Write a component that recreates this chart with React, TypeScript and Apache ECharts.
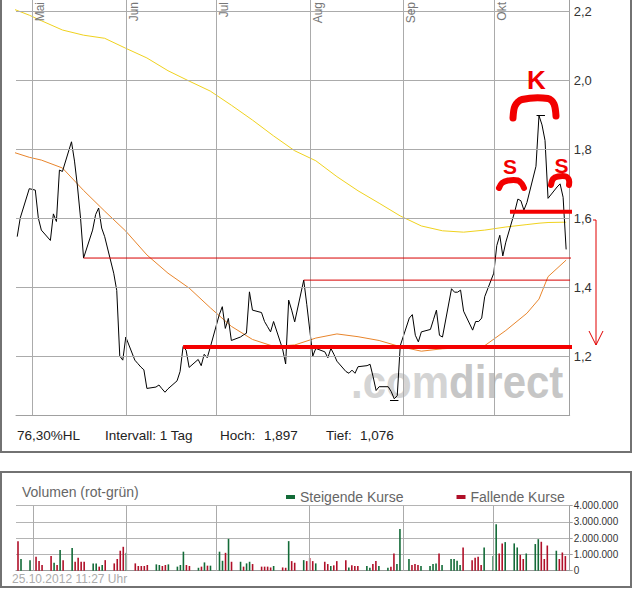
import React, { useEffect, useRef } from "react";
import * as echarts from "echarts";

// ---------- DATA (2012, Xetra trading days) ----------
const aprDays = [26, 27, 30];
const aprClose = [1.546, 1.6, 1.685];
const aprVolume = [1.82, 0.72, 0.65]; // millions
const aprTrend = "rgg";

const mayDays = [2, 3, 4, 7, 8, 9, 10, 11, 14, 15, 16, 17, 18, 21, 22, 23, 24, 25, 28, 29, 30, 31];
const mayClose = [1.681, 1.6, 1.565, 1.535, 1.612, 1.59, 1.739, 1.735, 1.821, 1.765, 1.69, 1.6, 1.484, 1.565, 1.61, 1.629, 1.571, 1.546, 1.44, 1.39, 1.2, 1.188];
const mayVolume = [0.86, 0.59, 0.35, 0.9, 0.49, 0.35, 1.27, 0.65, 1.39, 0.55, 0.8, 0.55, 0.55, 0.45, 0.45, 0.25, 0.35, 0.65, 0.45, 0.72, 1.23, 1.47];
const mayTrend = "rrrrgrgrgrrrrggrgrrrrr";

const junDays = [1, 4, 5, 6, 7, 8, 11, 12, 13, 14, 15, 18, 19, 20, 21, 22, 25, 26, 27, 28, 29];
const junClose = [1.255, 1.188, 1.178, 1.168, 1.16, 1.106, 1.11, 1.116, 1.105, 1.095, 1.105, 1.128, 1.155, 1.227, 1.217, 1.167, 1.19, 1.172, 1.205, 1.195, 1.225];
const junVolume = [1.1, 0.45, 0.29, 0.29, 0.29, 0.35, 0.39, 0.35, 0.29, 0.35, 0.39, 0.25, 0.35, 1.17, 0.35, 0.29, 0.18, 0.25, 0.51, 0.31, 0.31];
const junTrend = "grrrrrggrrggggrrgrgrg";

const julDays = [2, 3, 4, 5, 6, 9, 10, 11, 12, 13, 16, 17, 18, 19, 20, 23, 24, 25, 26, 27, 30, 31];
const julClose = [1.32, 1.343, 1.28, 1.309, 1.245, 1.255, 1.261, 1.266, 1.386, 1.333, 1.326, 1.3, 1.285, 1.27, 1.3, 1.22, 1.177, 1.362, 1.333, 1.299, 1.42, 1.35];
const julVolume = [1.17, 0.61, 1.1, 1.96, 0.55, 0.55, 0.25, 0.45, 0.55, 0.41, 0.25, 0.25, 0.25, 0.2, 0.29, 0.2, 0.18, 1.82, 0.59, 0.49, 0.65, 0.59];
const julTrend = "ggrgrgrggrrrrrgrrgrrgr";

const augDays = [1, 2, 3, 6, 7, 8, 9, 10, 13, 14, 15, 16, 17, 20, 21, 22, 23, 24, 27, 28, 29, 30, 31];
const augClose = [1.275, 1.2, 1.222, 1.212, 1.195, 1.222, 1.205, 1.185, 1.155, 1.15, 1.159, 1.15, 1.169, 1.172, 1.176, 1.14, 1.1, 1.111, 1.111, 1.097, 1.076, 1.085, 1.23];
const augVolume = [0.78, 0.59, 0.45, 0.55, 0.41, 0.29, 0.33, 0.59, 0.65, 0.2, 0.33, 0.29, 0.29, 0.29, 0.18, 0.41, 0.59, 0.29, 0.18, 0.25, 1.06, 0.41, 2.56];
const augTrend = "rrgrrgrrrgrrrggrrggrrgg";

const sepDays = [3, 4, 5, 6, 7, 10, 11, 12, 13, 14, 17, 18, 19, 20, 21, 24, 25, 26, 27, 28];
const sepClose = [1.31, 1.32, 1.26, 1.241, 1.27, 1.277, 1.305, 1.333, 1.26, 1.255, 1.395, 1.385, 1.385, 1.391, 1.33, 1.275, 1.3, 1.3, 1.31, 1.372];
const sepVolume = [0.72, 0.35, 0.41, 0.35, 0.29, 0.29, 0.41, 0.45, 1.06, 0.35, 0.72, 0.72, 0.61, 0.35, 1.43, 0.65, 0.8, 0.86, 0.35, 1.43];
const sepTrend = "grrrggggrgggggrrrrrg";

const octDays = [1, 2, 3, 4, 5, 8, 9, 10, 11, 12, 15, 16, 17, 18, 19, 22, 23, 24, 25];
const octClose = [1.44, 1.52, 1.55, 1.49, 1.53, 1.62, 1.655, 1.65, 1.623, 1.645, 1.75, 1.897, 1.87, 1.825, 1.657, 1.69, 1.699, 1.66, 1.509];
const octVolume = [0.9, 2.86, 1.06, 1.68, 1.76, 1.68, 1.43, 0.98, 0.72, 1.06, 1.64, 1.94, 1.78, 0.72, 1.55, 1.23, 0.72, 1.12, 0.9];
const octTrend = "ggrrgggrrgggrrrgrrr";

// moving averages (weekly samples)
const maDates = ["2012-04-25", "2012-04-30", "2012-05-04", "2012-05-11", "2012-05-18", "2012-05-25", "2012-06-01", "2012-06-08", "2012-06-15", "2012-06-22", "2012-06-29", "2012-07-06", "2012-07-13", "2012-07-20", "2012-07-27", "2012-08-03", "2012-08-10", "2012-08-17", "2012-08-24", "2012-08-31", "2012-09-07", "2012-09-14", "2012-09-21", "2012-09-28", "2012-10-05", "2012-10-12", "2012-10-16", "2012-10-19", "2012-10-25"];
const maLong = [2.205, 2.188, 2.172, 2.145, 2.13, 2.121, 2.092, 2.064, 2.027, 1.997, 1.968, 1.927, 1.884, 1.838, 1.795, 1.766, 1.72, 1.679, 1.643, 1.606, 1.577, 1.563, 1.559, 1.565, 1.574, 1.581, 1.585, 1.587, 1.588];
const maShort = [1.79, 1.776, 1.768, 1.745, 1.68, 1.62, 1.562, 1.493, 1.44, 1.397, 1.34, 1.286, 1.248, 1.228, 1.232, 1.252, 1.264, 1.256, 1.245, 1.227, 1.214, 1.221, 1.224, 1.23, 1.274, 1.324, 1.365, 1.43, 1.478];

// axis ticks / labels
const priceTicks = [1.2, 1.4, 1.6, 1.8, 2.0, 2.2];
const priceTickLabels = ["1,2", "1,4", "1,6", "1,8", "2,0", "2,2"];
const monthStarts = ["2012-05-01", "2012-06-01", "2012-07-01", "2012-08-01", "2012-09-01", "2012-10-01"];
const monthLabels = ["Mai", "Jun", "Jul", "Aug", "Sep", "Okt"];

// hand-drawn support / resistance lines
const resFrom = ["2012-05-18", "2012-07-30", "2012-06-20", "2012-10-06 09:00"];
const resTo = ["2012-10-26 20:00", "2012-10-26 07:00", "2012-10-27 22:00", "2012-10-29 07:00"];
const resValue = [1.484, 1.42, 1.226, 1.618];
const resBold = [false, false, true, true];

const highDate = "2012-10-16 14:00";
const highValue = 1.899;
const lowDate = "2012-08-29";
const lowValue = 1.072;

// ---------- helpers ----------
const parse = (s: string) => {
  const [d, tm] = s.split(" ");
  const [y, m, dd] = d.split("-").map(Number);
  const [h, mi] = tm ? tm.split(":").map(Number) : [0, 0];
  return new Date(y, m - 1, dd, h, mi).getTime();
};
const DAY = 86400000;
const FONT = "'Liberation Sans', Arial, Helvetica, sans-serif";

const months = [
  { m: 4, days: aprDays, close: aprClose, vol: aprVolume, trend: aprTrend },
  { m: 5, days: mayDays, close: mayClose, vol: mayVolume, trend: mayTrend },
  { m: 6, days: junDays, close: junClose, vol: junVolume, trend: junTrend },
  { m: 7, days: julDays, close: julClose, vol: julVolume, trend: julTrend },
  { m: 8, days: augDays, close: augClose, vol: augVolume, trend: augTrend },
  { m: 9, days: sepDays, close: sepClose, vol: sepVolume, trend: sepTrend },
  { m: 10, days: octDays, close: octClose, vol: octVolume, trend: octTrend },
];

export default function App() {
  const ref = useRef<HTMLDivElement>(null);

  useEffect(() => {
    if (!ref.current) return;
    const chart = echarts.init(ref.current, null, { renderer: "svg" });

    const price: [number, number][] = [];
    const upVol: [number, number][] = [];
    const downVol: [number, number][] = [];
    months.forEach((mo) =>
      mo.days.forEach((d, i) => {
        const t = new Date(2012, mo.m - 1, d).getTime();
        price.push([t, mo.close[i]]);
        (mo.trend[i] === "g" ? upVol : downVol).push([t, mo.vol[i] * 1e6]);
      })
    );
    const maLongData = maDates.map((d, i) => [parse(d), maLong[i]]);
    const maShortData = maDates.map((d, i) => [parse(d), maShort[i]]);

    const xMin = parse("2012-04-25 14:24");
    const xMax = parse("2012-10-26 04:20");

    const gridLines: any[] = [
      ...priceTicks.map((v, i) => ({
        yAxis: v,
        label: { show: true, position: "end", formatter: priceTickLabels[i], color: "#333", fontSize: 13, distance: 4 },
      })),
      ...monthStarts.map((s, i) => ({
        xAxis: parse(s),
        name: monthLabels[i],
        label: { show: true, position: "insideEndBottom", formatter: monthLabels[i], color: "#777", fontSize: 12, distance: 2 },
      })),
    ];

    const hl = (date: string, v: number) => [
      { coord: [parse(date) - 1.4 * DAY, v], lineStyle: { color: "#000", width: 1, type: "solid" } },
      { coord: [parse(date) + 1.4 * DAY, v] },
    ];

    const resSeries = resFrom.map((f, i) => ({
      type: "line",
      name: "res" + i,
      xAxisIndex: 0,
      yAxisIndex: 0,
      data: [[parse(f), resValue[i]], [parse(resTo[i]), resValue[i]]],
      showSymbol: false,
      symbol: "none",
      clip: false,
      silent: true,
      z: resBold[i] ? 6 : 5,
      lineStyle: { color: resBold[i] ? "#f40000" : "#d80000", width: resBold[i] ? 4 : 1, cap: "butt" },
    }));

    const fmtVol = (v: number) => (v === 0 ? "0" : String(v).replace(/\B(?=(\d{3})+(?!\d))/g, "."));

    const red = "#f20000";
    const capStyle = { stroke: red, lineWidth: 6, fill: "none", lineCap: "round", lineJoin: "round" };
    const infoStyle = { fill: "#222", fontSize: 13.5, fontFamily: FONT, verticalAlign: "middle" };

    chart.setOption({
      animation: false,
      textStyle: { fontFamily: FONT },
      grid: [
        { left: 16, right: 67.3, top: 0, height: 415 },
        { left: 16, right: 67.3, top: 505.7, height: 65 },
      ],
      xAxis: [
        {
          type: "time", gridIndex: 0, min: xMin, max: xMax,
          axisLine: { show: true, lineStyle: { color: "#a0a0a0", width: 1 } },
          axisTick: { show: false }, axisLabel: { show: false }, splitLine: { show: false },
        },
        {
          type: "time", gridIndex: 1, min: xMin, max: xMax,
          axisLine: { show: true, lineStyle: { color: "#999", width: 1 } },
          axisTick: { show: false }, axisLabel: { show: false }, splitLine: { show: false },
        },
      ],
      yAxis: [
        {
          type: "value", gridIndex: 0, position: "right", min: 1.029, max: 2.232,
          axisLine: { show: true, lineStyle: { color: "#a0a0a0", width: 1 } },
          axisTick: { show: false }, axisLabel: { show: false }, splitLine: { show: false },
        },
        {
          type: "value", gridIndex: 1, position: "right", min: 0, max: 4000000, interval: 1000000,
          axisLine: { show: true, lineStyle: { color: "#a0a0a0", width: 1 } },
          axisTick: { show: true, length: 3, lineStyle: { color: "#a0a0a0" } },
          axisLabel: { show: true, fontSize: 10, color: "#333", margin: 4, formatter: fmtVol },
          splitLine: { show: true, lineStyle: { color: "#b4b4b4", width: 1 } },
        },
      ],
      legend: {
        data: ["Steigende Kurse", "Fallende Kurse"],
        left: 281, top: 485, icon: "rect", itemWidth: 9, itemHeight: 4, itemGap: 53,
        selectedMode: false,
        textStyle: { color: "#666", fontSize: 14, fontFamily: FONT },
      },
      series: [
        {
          type: "line", name: "GD200", xAxisIndex: 0, yAxisIndex: 0, data: maLongData,
          showSymbol: false, symbol: "none", smooth: false,
          lineStyle: { color: "#f0d21e", width: 1 }, z: 2, silent: true,
          markLine: {
            silent: true, symbol: ["none", "none"], animation: false,
            lineStyle: { color: "#ababab", width: 1, type: "solid" },
            data: gridLines,
          },
        },
        {
          type: "line", name: "GD38", xAxisIndex: 0, yAxisIndex: 0, data: maShortData,
          showSymbol: false, symbol: "none",
          lineStyle: { color: "#e8852c", width: 1 }, z: 2, silent: true,
        },
        {
          type: "line", name: "Kurs", xAxisIndex: 0, yAxisIndex: 0, data: price,
          showSymbol: false, symbol: "none",
          lineStyle: { color: "#000", width: 1 }, z: 3, silent: true,
          markLine: {
            silent: true, symbol: ["none", "none"], animation: false,
            label: { show: false },
            data: [hl(highDate, highValue), hl(lowDate, lowValue)],
          },
        },
        ...resSeries,
        {
          type: "bar", name: "Steigende Kurse", xAxisIndex: 1, yAxisIndex: 1, data: upVol,
          barWidth: 1.6, itemStyle: { color: "#136b38" }, silent: true,
          markLine: {
            silent: true, symbol: ["none", "none"], animation: false, label: { show: false },
            lineStyle: { color: "#ababab", width: 1, type: "solid" },
            data: monthStarts.map((s) => ({ xAxis: parse(s) })),
          },
        },
        {
          type: "bar", name: "Fallende Kurse", xAxisIndex: 1, yAxisIndex: 1, data: downVol,
          barWidth: 1.6, barGap: "-100%", itemStyle: { color: "#b01029" }, silent: true,
        },
      ],
      graphic: [
        { type: "rect", silent: true, z: 0, shape: { x: 1, y: -2, width: 630, height: 454 }, style: { fill: "none", stroke: "#727272", lineWidth: 2 } },
        { type: "rect", silent: true, z: 0, shape: { x: 1, y: 472, width: 630, height: 115 }, style: { fill: "none", stroke: "#727272", lineWidth: 2 } },
        {
          type: "text", silent: true, z: 0, x: 351, y: 382, scaleY: 1.12,
          style: {
            text: "{a|.com}{b|direct}", font: `bold 42px ${FONT}`, verticalAlign: "middle",
            rich: {
              a: { fill: "#d4d4d4", fontSize: 42, fontWeight: "bold", fontFamily: FONT },
              b: { fill: "#c6c6c6", fontSize: 42, fontWeight: "bold", fontFamily: FONT },
            },
          },
        },
        { type: "text", silent: true, x: 17, y: 435, style: { ...infoStyle, text: "76,30%HL" } },
        { type: "text", silent: true, x: 105, y: 435, style: { ...infoStyle, text: "Intervall: 1 Tag" } },
        { type: "text", silent: true, x: 220, y: 435, style: { ...infoStyle, text: "Hoch:" } },
        { type: "text", silent: true, x: 264, y: 435, style: { ...infoStyle, text: "1,897" } },
        { type: "text", silent: true, x: 326, y: 435, style: { ...infoStyle, text: "Tief:" } },
        { type: "text", silent: true, x: 360, y: 435, style: { ...infoStyle, text: "1,076" } },
        { type: "text", silent: true, x: 22, y: 492, style: { text: "Volumen (rot-grün)", fill: "#666", fontSize: 14, fontFamily: FONT, verticalAlign: "middle" } },
        { type: "text", silent: true, x: 12, y: 579, style: { text: "25.10.2012 11:27 Uhr", fill: "#ababab", fontSize: 12, fontFamily: FONT, verticalAlign: "middle" } },
        // hand-drawn annotations
        { type: "text", silent: true, z: 100, x: 536.5, y: 80, style: { text: "K", fill: red, fontSize: 26, fontWeight: "bold", fontFamily: FONT, align: "center", verticalAlign: "middle" } },
        { type: "text", silent: true, z: 100, x: 510, y: 166, style: { text: "S", fill: red, fontSize: 21, fontWeight: "bold", fontFamily: FONT, align: "center", verticalAlign: "middle" } },
        { type: "text", silent: true, z: 100, x: 561.5, y: 165, style: { text: "S", fill: red, fontSize: 21, fontWeight: "bold", fontFamily: FONT, align: "center", verticalAlign: "middle" } },
        { type: "polyline", silent: true, z: 100, shape: { points: [[513, 118], [515, 106], [522, 99.5], [548, 98.5], [554, 104], [556, 116]], smooth: 0.3 }, style: { ...capStyle, lineWidth: 7 } },
        { type: "polyline", silent: true, z: 100, shape: { points: [[499, 188], [502, 183], [508, 180.5], [518, 180.5], [522, 184], [524, 188]], smooth: 0.3 }, style: capStyle },
        { type: "polyline", silent: true, z: 100, shape: { points: [[551, 185], [553, 179], [558, 176.5], [566, 176.5], [569, 180], [569, 185]], smooth: 0.3 }, style: capStyle },
        { type: "polyline", silent: true, z: 100, shape: { points: [[593, 220], [596, 220], [596, 345]] }, style: { stroke: "#e00000", lineWidth: 1, fill: "none" } },
        { type: "polyline", silent: true, z: 100, shape: { points: [[589, 331], [596, 345], [603, 331]] }, style: { stroke: "#e00000", lineWidth: 1, fill: "none" } },
      ],
    });

    return () => chart.dispose();
  }, []);

  return (
    <div
      ref={ref}
      style={{ position: "absolute", left: 0, top: 0, width: 637, height: 599, background: "#fff" }}
    />
  );
}
